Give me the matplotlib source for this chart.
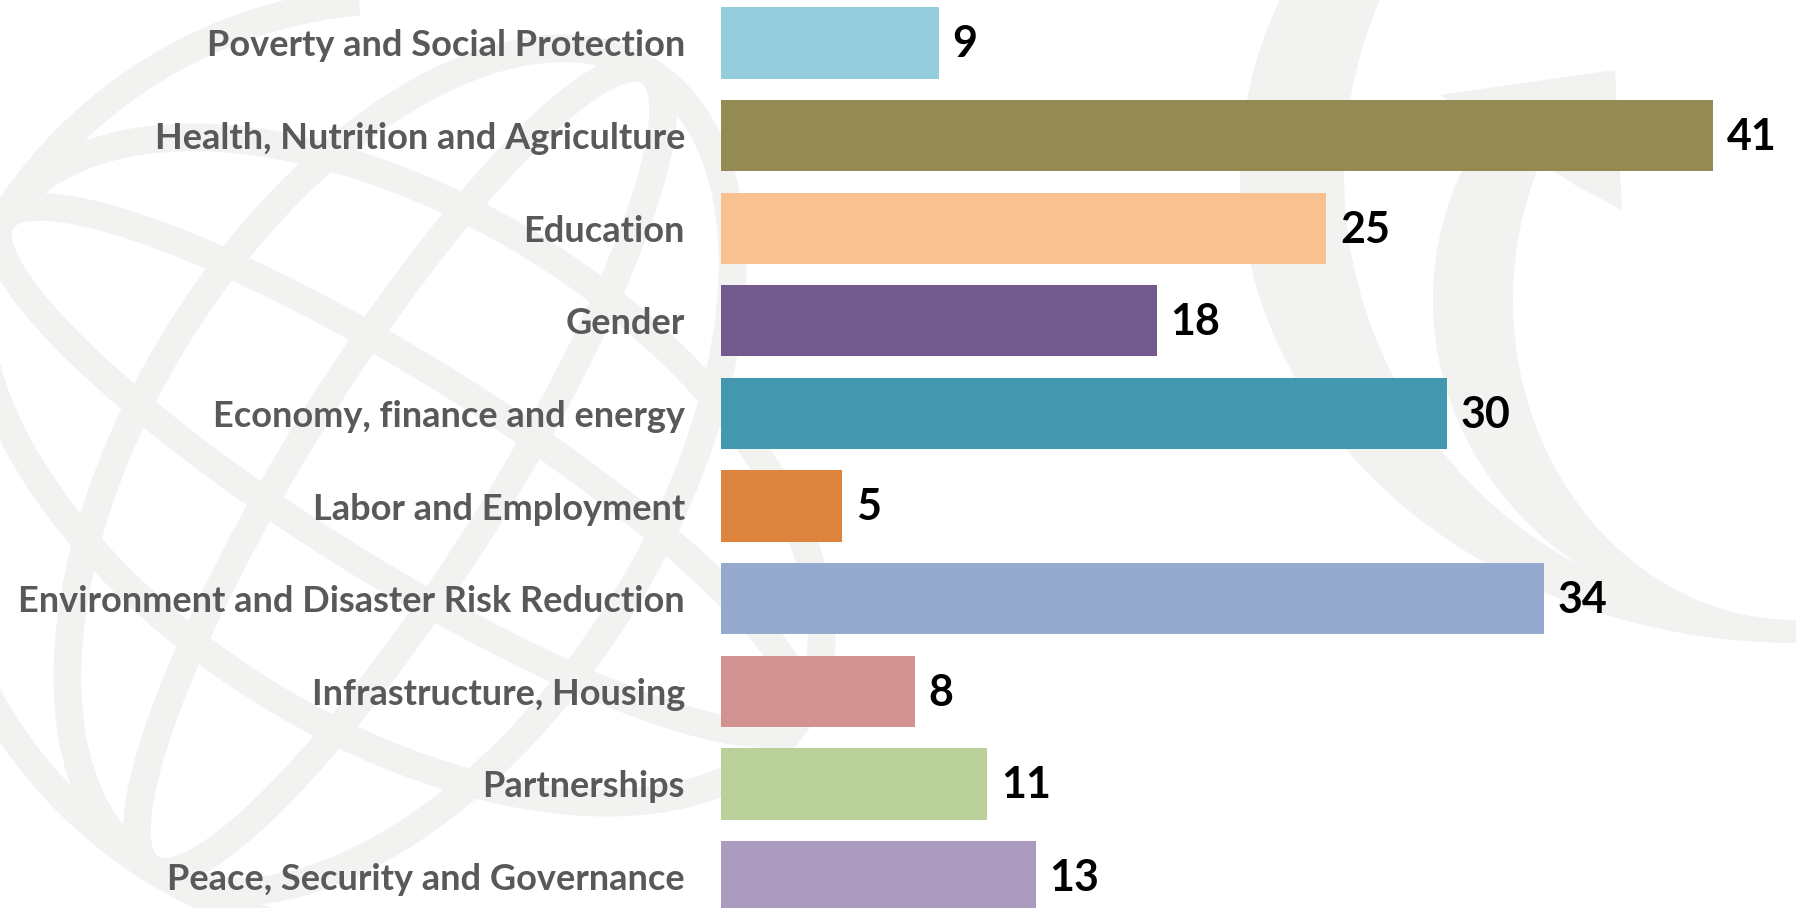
import numpy as np
import matplotlib.pyplot as plt
from matplotlib.patches import Arc, Ellipse, Polygon

categories = ['Poverty and Social Protection', 'Health, Nutrition and Agriculture',
              'Education', 'Gender', 'Economy, finance and energy',
              'Labor and Employment', 'Environment and Disaster Risk Reduction',
              'Infrastructure, Housing', 'Partnerships', 'Peace, Security and Governance']
values = [9, 41, 25, 18, 30, 5, 34, 8, 11, 13]
colors = ['#94CDDD', '#948A54', '#F9C090', '#72598E', '#4398B0',
          '#DC843E', '#96AAD0', '#D39292', '#BAD09A', '#AA9BBF']

W, H = 1796, 908
fig = plt.figure(figsize=(W / 100, H / 100), dpi=100)
fig.patch.set_facecolor('white')

# faint globe watermark in the background (decoration only)
bg = fig.add_axes([0, 0, 1, 1], zorder=0)
bg.set_xlim(0, W)
bg.set_ylim(H, 0)
bg.axis('off')
wm = '#F2F2F0'


def crescent(cx, cy, a1, b1, a2, b2, t0, t1):
    t = np.linspace(t0, t1, 120)
    outer = np.c_[cx + a1 * np.cos(t), cy + b1 * np.sin(t)]
    inner = np.c_[cx + a2 * np.cos(t[::-1]), cy + b2 * np.sin(t[::-1])]
    bg.add_patch(Polygon(np.vstack([outer, inner]), closed=True, fc=wm, ec='none'))


crescent(1796, 174, 556, 469, 452, 446, np.pi / 2, 3.65)
crescent(1796, 300, 363, 331, 283, 320, np.pi / 2, np.pi + 0.6)
bg.add_patch(Polygon([(1440, 95), (1615, 70), (1622, 210), (1575, 185)], fc=wm, ec='none'))

bg.add_patch(Arc((400, 470), 940, 940, theta1=95, theta2=265, lw=20, color=wm))
for w, ang in [(520, 32), (200, 32), (520, -58), (200, -58)]:
    bg.add_patch(Ellipse((400, 470), w, 940, angle=ang, fill=False, lw=20, ec=wm))

ax = fig.add_axes([721 / W, 0, 1 - 721 / W, 1], zorder=1)
ax.patch.set_alpha(0)
y = np.arange(len(categories))
bars = ax.barh(y, values, height=0.77, color=colors)
ax.set_xlim(0, (W - 721) / 24.2)
ax.set_ylim(9.34, -0.464)

ax.set_yticks(y)
ax.set_yticklabels(categories, fontsize=26, fontweight='bold', color='#595959',
                   family=['Lato', 'DejaVu Sans'])
ax.tick_params(axis='y', length=0, pad=26)
ax.set_xticks([])
for s in ax.spines.values():
    s.set_visible(False)

for b, v in zip(bars, values):
    ax.annotate(str(v), (b.get_width(), b.get_y() + b.get_height() / 2),
                xytext=(10, -1), textcoords='offset points', va='center', ha='left',
                fontsize=31, fontweight='bold', color='black', family=['Lato', 'DejaVu Sans'])

fig.savefig('out.png', dpi=100)
